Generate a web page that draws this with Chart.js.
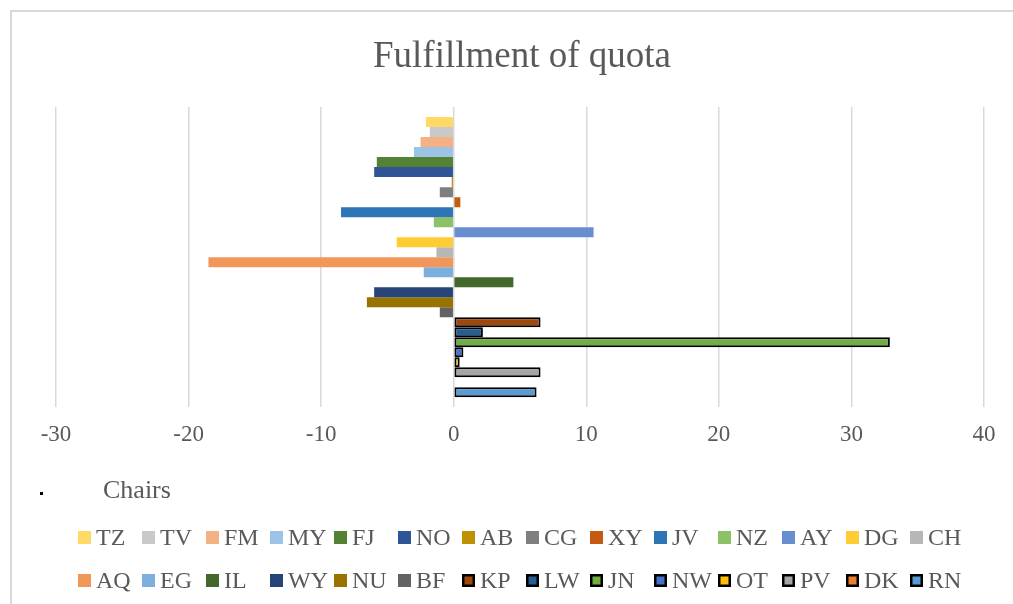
<!DOCTYPE html>
<html>
<head>
<meta charset="utf-8">
<title>Fulfillment of quota</title>
<script src="https://cdn.jsdelivr.net/npm/chart.js@4/dist/chart.umd.min.js"></script>
<style>
  body { margin: 0; background: #fff; overflow: hidden; }
  #wrap { position: relative; width: 1013px; height: 604px; }
  #frame { position: absolute; left: 10px; top: 10px; width: 1100px; height: 700px; border: 2px solid #d9d9d9; box-sizing: border-box; }
  canvas { position: absolute; left: 0; top: 0; }
</style>
</head>
<body>
<div id="wrap">
  <div id="frame"></div>
  <canvas id="myChart" width="1013" height="604"></canvas>
</div>
<script>
// Données du graphique
const chartTitle = "Fulfillment of quota";
const categories = ["Chairs"];
const seriesNames = ["TZ", "TV", "FM", "MY", "FJ", "NO", "AB", "CG", "XY", "JV", "NZ", "AY", "DG", "CH",
  "AQ", "EG", "IL", "WY", "NU", "BF", "KP", "LW", "JN", "NW", "OT", "PV", "DK", "RN"];
const seriesValues = [-2.1, -1.8, -2.5, -3.0, -5.8, -6.0, -0.15, -1.05, 0.5, -8.5, -1.5, 10.55, -4.3, -1.3,
  -18.5, -2.26, 4.5, -6.0, -6.55, -1.05, 6.55, 2.2, 32.9, 0.73, 0.45, 6.55, 0, 6.25];
const xTicks = [-30, -20, -10, 0, 10, 20, 30, 40];

// Couleurs (style Office)
const seriesColors = ["#FFD966", "#C9C9C9", "#F4B183", "#9DC3E6", "#548235", "#2F5597", "#BF9000", "#7F7F7F",
  "#C55A11", "#2E75B6", "#8CC168", "#698ED0", "#FFCD33", "#B7B7B7",
  "#F1975A", "#7CAFDD", "#43682B", "#264478", "#997300", "#636363", "#9E480E", "#255E91",
  "#70AD47", "#4472C4", "#FFC000", "#A5A5A5", "#ED7D31", "#5B9BD5"];
const outlined = seriesNames.map((n, i) => i >= 20);

const serif = '"Liberation Serif", "Times New Roman", serif';
const grey = "#595959";

const datasets = seriesNames.map((name, i) => ({
  label: name,
  data: [seriesValues[i]],
  backgroundColor: seriesColors[i],
  borderColor: outlined[i] ? "#000000" : seriesColors[i],
  borderWidth: outlined[i] ? 2 : 0,
  borderSkipped: false,
  categoryPercentage: 0.933,
  barPercentage: 1.0,
}));

// Titre, légende et libellé dessinés à la main
const overlay = {
  id: "overlay",
  afterDraw(chart) {
    const ctx = chart.ctx;
    ctx.save();
    ctx.fillStyle = grey;
    ctx.textBaseline = "alphabetic";
    ctx.textAlign = "center";
    ctx.font = "37px " + serif;
    ctx.fillText(chartTitle, 522, 67);

    ctx.textAlign = "left";
    ctx.font = "26px " + serif;
    ctx.fillText(categories[0], 103, 498);

    ctx.fillStyle = "#000";
    ctx.fillRect(40, 492, 3, 3);

    ctx.font = "24px " + serif;
    chart.data.datasets.forEach((ds, i) => {
      const col = i % 14;
      const row = Math.floor(i / 14);
      const x = 78 + col * 64;
      const y = 531 + row * 43;
      if (outlined[i]) {
        ctx.fillStyle = "#000";
        ctx.fillRect(x, y, 13, 13);
        ctx.fillStyle = ds.backgroundColor;
        ctx.fillRect(x + 2.5, y + 2.5, 8, 8);
      } else {
        ctx.fillStyle = ds.backgroundColor;
        ctx.fillRect(x, y, 13, 13);
      }
      ctx.fillStyle = grey;
      ctx.fillText(ds.label, x + 18, y + 13.5);
    });
    ctx.restore();
  },
};

const ctx = document.getElementById("myChart").getContext("2d");
new Chart(ctx, {
  type: "bar",
  data: { labels: categories, datasets: datasets },
  plugins: [overlay],
  options: {
    indexAxis: "y",
    responsive: false,
    animation: false,
    devicePixelRatio: 1,
    layout: { padding: { left: 56, right: 29, top: 107, bottom: 141 } },
    plugins: { legend: { display: false }, title: { display: false }, tooltip: { enabled: false } },
    scales: {
      x: {
        min: -30,
        max: 40,
        afterBuildTicks: (axis) => { axis.ticks = xTicks.map(v => ({ value: v })); },
        grid: { color: "#D9D9D9", lineWidth: 1.5, drawTicks: false },
        border: { display: false },
        ticks: { color: grey, font: { family: serif, size: 23 }, padding: 14 },
      },
      y: { display: false },
    },
  },
});
</script>
</body>
</html>
